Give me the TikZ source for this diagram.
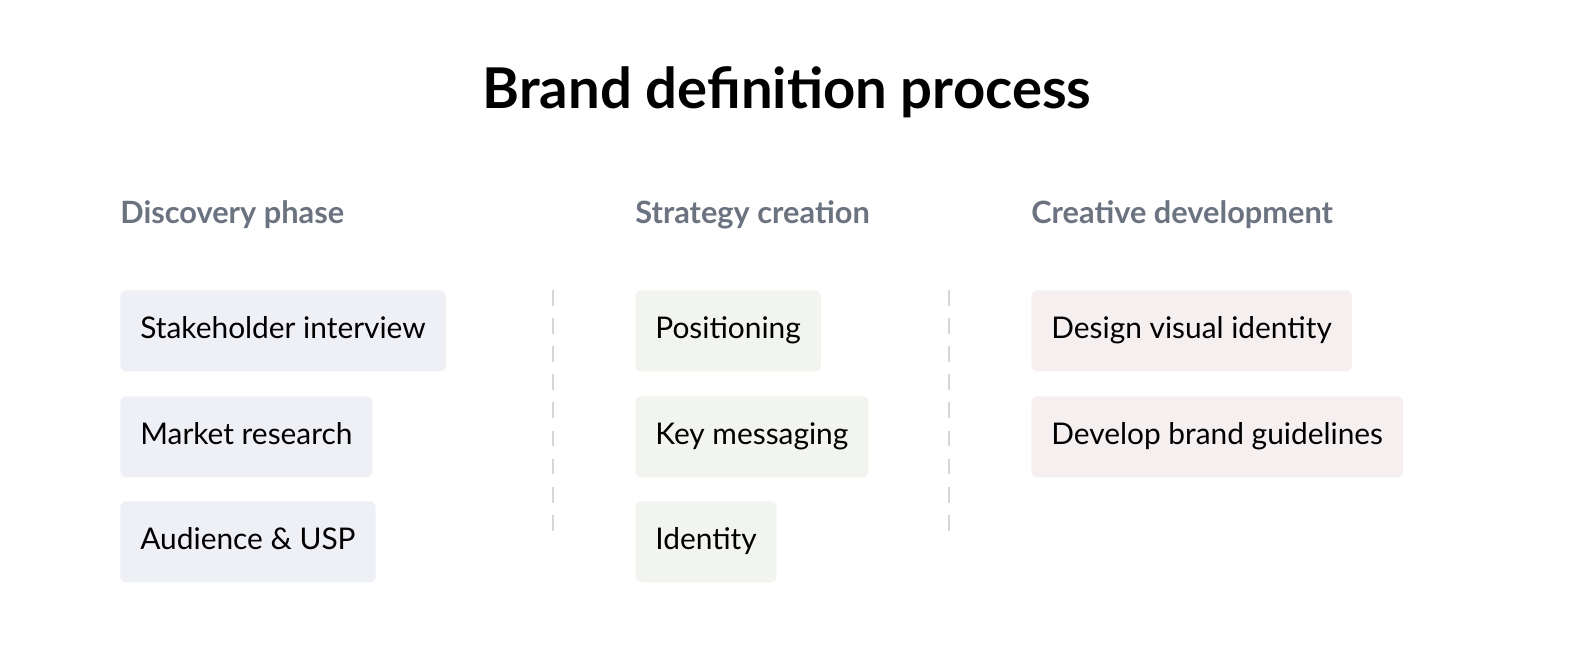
\documentclass[tikz,border=0pt]{standalone}
\usepackage{fontspec}
\setmainfont{Lato}
\usetikzlibrary{positioning}
\definecolor{headgray}{HTML}{6B7280}
\definecolor{discfill}{HTML}{EFF0F5}
\definecolor{stratfill}{HTML}{F2F4EF}
\definecolor{creafill}{HTML}{F5EFF0}
\definecolor{sepgray}{HTML}{D4D6DA}
\begin{document}
\begin{tikzpicture}
[x=0.02cm,y=-0.02cm,
item/.style={rectangle,rounded corners=3pt,anchor=north west,inner xsep=0.4cm,minimum height=1.62cm,
  font=\fontsize{17}{20}\selectfont,text height=12pt,text depth=3pt},
head/.style={anchor=west,inner sep=0pt,text=headgray,font=\fontsize{17.5}{20}\selectfont\bfseries},
sep/.style={draw=sepgray,line width=1.2pt,dash pattern=on 9pt off 7pt},
]
\useasboundingbox (0,0) rectangle (1574,658);
\node[font=\fontsize{32}{38}\selectfont\bfseries] (title) at (787,92) {Brand definition process};

% headers
\node[head] (hdisc) at (120,215) {Discovery phase};
\node[head] (hstrat) at (635,215) {Strategy creation};
\node[head] (hcrea) at (1031,215) {Creative development};

% discovery
\node[item,fill=discfill] (d1) at (120,290) {Stakeholder interview};
\node[item,fill=discfill] (d2) at (120,396) {Market research};
\node[item,fill=discfill] (d3) at (120,501) {Audience \& USP};

% strategy
\node[item,fill=stratfill] (s1) at (635,290) {Positioning};
\node[item,fill=stratfill] (s2) at (635,396) {Key messaging};
\node[item,fill=stratfill] (s3) at (635,501) {Identity};

% creative
\node[item,fill=creafill] (c1) at (1031,290) {Design visual identity};
\node[item,fill=creafill] (c2) at (1031,396) {Develop brand guidelines};

% separators
\coordinate (a1) at (553,290); \coordinate (a2) at (553,532);
\coordinate (b1) at (949,290); \coordinate (b2) at (949,532);
\draw[sep] (a1) -- (a2);
\draw[sep] (b1) -- (b2);
\end{tikzpicture}
\end{document}
